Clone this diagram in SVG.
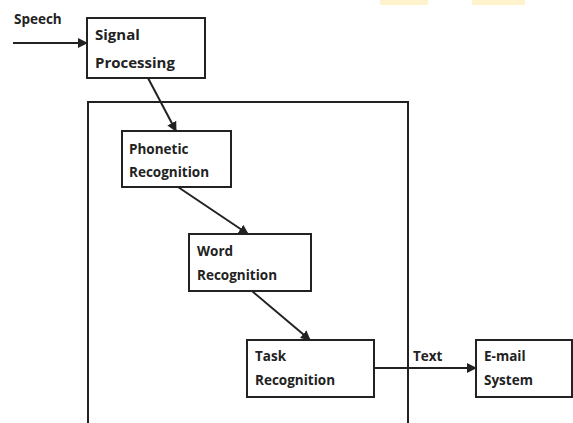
<svg xmlns="http://www.w3.org/2000/svg" width="573" height="423" viewBox="0 0 573 423">
<style>
.box{fill:#fff;stroke:#222;stroke-width:2}
.frame{fill:none;stroke:#222;stroke-width:2}
.t{font-family:"Open Sans","DejaVu Sans",sans-serif;font-weight:700;font-size:13.5px;fill:#222}
.big{font-size:15px}
.c{stroke:#222;stroke-width:2;fill:none;marker-end:url(#ah)}
</style>
<defs>
<marker id="ah" viewBox="0 0 10 10" refX="9" refY="5" markerWidth="5" markerHeight="5" orient="auto" markerUnits="strokeWidth">
<path d="M0,0 L10,5 L0,10 z" fill="#222"/>
</marker>
</defs>
<rect x="380" y="0" width="48" height="5" fill="#fff3cc"/>
<rect x="472" y="0" width="53" height="5" fill="#fff3cc"/>
<rect id="frame" class="frame" x="88" y="102" width="320" height="330"/>
<g id="connectors">
<line class="c" x1="13" y1="43" x2="87" y2="43"/>
<line class="c" x1="148" y1="78" x2="176" y2="131"/>
<line class="c" x1="178" y1="187" x2="248" y2="234"/>
<line class="c" x1="252" y1="291" x2="310" y2="340"/>
<line class="c" x1="374" y1="368" x2="476" y2="368"/>
<text class="t" x="14" y="24">Speech</text>
<text class="t" x="413" y="361">Text</text>
</g>
<g id="signal">
<rect class="box" x="87" y="18" width="118" height="60"/>
<text class="t big" x="95" y="40">Signal</text>
<text class="t big" x="95" y="68">Processing</text>
</g>
<g id="phonetic">
<rect class="box" x="122" y="131" width="109" height="56"/>
<text class="t" x="129" y="154">Phonetic</text>
<text class="t" x="129" y="177">Recognition</text>
</g>
<g id="word">
<rect class="box" x="189" y="234" width="122" height="57"/>
<text class="t" x="197" y="256">Word</text>
<text class="t" x="197" y="280">Recognition</text>
</g>
<g id="task">
<rect class="box" x="247" y="340" width="127" height="57"/>
<text class="t" x="255" y="361">Task</text>
<text class="t" x="255" y="385">Recognition</text>
</g>
<g id="email">
<rect class="box" x="476" y="340" width="96" height="57"/>
<text class="t" x="484" y="361">E-mail</text>
<text class="t" x="484" y="385">System</text>
</g>
</svg>
